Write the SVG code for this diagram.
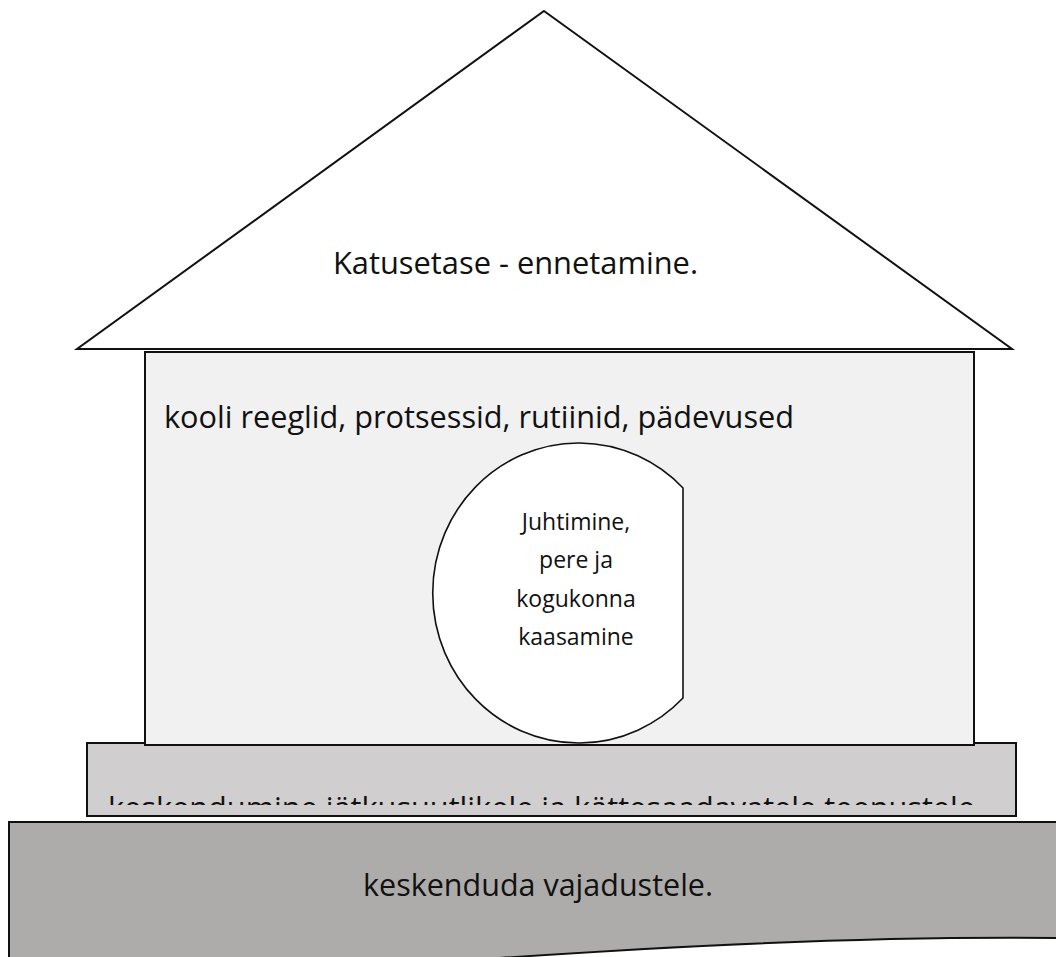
<svg xmlns="http://www.w3.org/2000/svg" width="1056" height="957" viewBox="0 0 1056 957">
<style>
.big{font-family:"Open Sans","Noto Sans","Liberation Sans",sans-serif;font-size:31px;fill:#111}
.small{font-family:"Open Sans","Noto Sans","Liberation Sans",sans-serif;font-size:23px;fill:#111;text-anchor:middle}
.ln{stroke:#111;stroke-width:2}
</style>
<defs>
<clipPath id="stripClip"><rect x="88" y="744" width="927" height="61"/></clipPath>
</defs>
<rect width="1056" height="957" fill="#fff"/>
<g id="base">
<path d="M9,822 H1060 V938 C880,936 700,944 500,958 C320,972 120,985 9,968 Z" fill="#adacaa" class="ln"/>
<text class="big" x="363" y="896" textLength="350" lengthAdjust="spacingAndGlyphs">keskenduda vajadustele.</text>
</g>
<g id="strip">
<rect x="87" y="743" width="929" height="73" fill="#d0cecf" class="ln"/>
<text class="big" x="108" y="819" textLength="867" lengthAdjust="spacingAndGlyphs" clip-path="url(#stripClip)">keskendumine jätkusuutlikele ja kättesaadavatele teenustele</text>
</g>
<g id="walls">
<rect x="145" y="352" width="829" height="393" fill="#f1f1f1" class="ln"/>
<text class="big" x="164" y="428" textLength="630" lengthAdjust="spacingAndGlyphs">kooli reeglid, protsessid, rutiinid, pädevused</text>
</g>
<g id="roof">
<polygon points="544,11 1012,349 77,349" fill="#fff" class="ln"/>
<text class="big" x="333" y="274" textLength="365" lengthAdjust="spacingAndGlyphs">Katusetase - ennetamine.</text>
</g>
<g id="center">
<path d="M683,488 A146,150 0 1 0 683,698 Z" fill="#fff" stroke="#111" stroke-width="1.6"/>
<text class="small" x="576" y="530">Juhtimine,</text>
<text class="small" x="576" y="568">pere ja</text>
<text class="small" x="576" y="607">kogukonna</text>
<text class="small" x="576" y="645">kaasamine</text>
</g>
</svg>
